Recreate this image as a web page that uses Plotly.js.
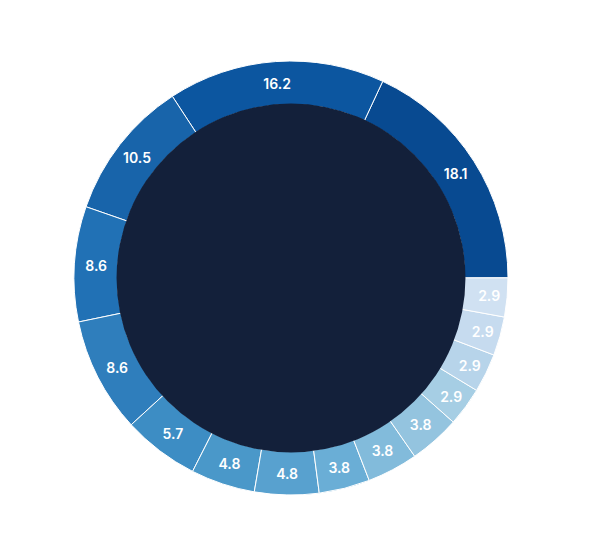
<!DOCTYPE html>
<html>
<head>
<meta charset="utf-8">
<script src="https://cdn.plot.ly/plotly-3.0.1.min.js"></script>
<style>html,body{margin:0;padding:0;background:#fff;}#chart{width:594px;height:558px;}</style>
</head>
<body>
<div id="chart"></div>
<script>
const values = [18.1, 16.2, 10.5, 8.6, 8.6, 5.7, 4.8, 4.8, 3.8, 3.8, 3.8, 2.9, 2.9, 2.9, 2.9];
const labels = ["A","B","C","D","E","F","G","H","I","J","K","L","M","N","O"];
const colors = ["#084a91","#0c56a0","#1864aa","#2171b5","#2f7ebc","#3d8dc4","#4a98c9","#58a1cf","#6aaed6","#82bbdb","#94c4df","#a6cee4","#b7d4ea","#c6dbef","#d0e1f2"];
const holeColor = "#13203a";

const trace = {
  type: "pie",
  values: values,
  labels: labels,
  text: values.map(v => v.toFixed(1)),
  textinfo: "text",
  textposition: "inside",
  insidetextorientation: "horizontal",
  hole: 0.8,
  sort: false,
  direction: "counterclockwise",
  rotation: 25,
  marker: {colors: colors, line: {color: "#ffffff", width: 1}},
  textfont: {family: "Inter, sans-serif", size: 14, color: "#ffffff", weight: 600},
  showlegend: false,
  hoverinfo: "none"
};

const layout = {
  width: 594, height: 558,
  margin: {l: 74, r: 86, t: 61, b: 63},
  paper_bgcolor: "#ffffff",
  showlegend: false,
  shapes: [{
    type: "circle", xref: "paper", yref: "paper", layer: "above",
    x0: 0.098, x1: 0.902, y0: 0.098, y1: 0.902,
    fillcolor: holeColor, line: {width: 0}
  }]
};

Plotly.newPlot("chart", [trace], layout, {displayModeBar: false, staticPlot: true});
</script>
</body>
</html>
